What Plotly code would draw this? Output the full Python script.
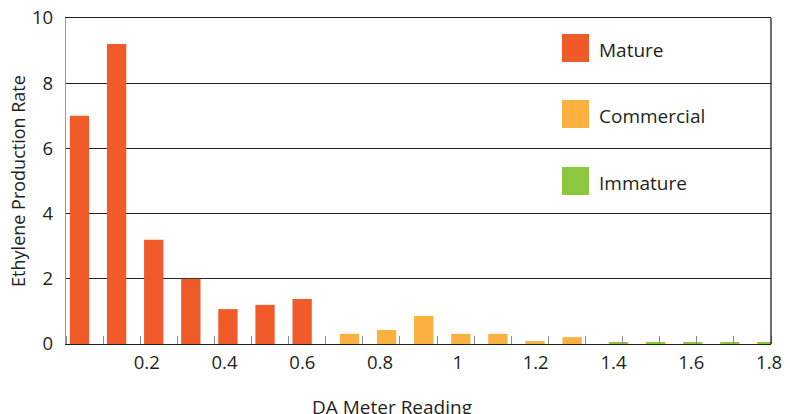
import plotly.graph_objects as go

# ---------------- data ----------------
mature_x = [0.0, 0.1, 0.2, 0.3, 0.4, 0.5, 0.6]
mature_y = [7.0, 9.2, 3.2, 2.0, 1.07, 1.2, 1.38]
commercial_x = [0.7, 0.8, 0.9, 1.0, 1.1, 1.2, 1.3]
commercial_y = [0.31, 0.43, 0.86, 0.31, 0.31, 0.09, 0.21]
immature_x = [1.4, 1.5, 1.6, 1.7, 1.8]
immature_y = [0.05, 0.05, 0.05, 0.05, 0.05]

series_names = ["Mature", "Commercial", "Immature"]
series_colors = ["#F15A29", "#FBB040", "#8DC63F"]

x_tick_vals = [0.2, 0.4, 0.6, 0.8, 1.0, 1.2, 1.4, 1.6, 1.8]
x_tick_text = ["0.2", "0.4", "0.6", "0.8", "1", "1.2", "1.4", "1.6", "1.8"]
y_tick_vals = [0, 2, 4, 6, 8, 10]

# ---------------- layout constants ----------------
W, H = 790, 414
ML, MR, MT, MB = 66, 19, 18, 70
PW, PH = W - ML - MR, H - MT - MB
INK = "#231F20"
FONT = "Open Sans"

bar_width = 0.052
group_shift = [-0.0136, 0.014, 0.039]  # visual nudge of each group

fig = go.Figure()
for xs, ys, name, color, shift in zip(
    [mature_x, commercial_x, immature_x],
    [mature_y, commercial_y, immature_y],
    series_names, series_colors, group_shift,
):
    fig.add_trace(go.Bar(
        x=xs, y=ys, name=name,
        marker=dict(color=color, line=dict(width=0)),
        width=bar_width, offset=-bar_width / 2 + shift,
        showlegend=False, cliponaxis=False,
        hovertemplate=name + ": %{x}, %{y}<extra></extra>",
    ))

# carrier trace so the tick-label axis is rendered (draws nothing)
fig.add_trace(go.Scatter(
    x=x_tick_vals, y=[None] * len(x_tick_vals), xaxis="x2", yaxis="y",
    mode="markers", showlegend=False, hoverinfo="skip",
))


def px_x(p):
    return (p - ML) / PW


def px_y(p):
    return (MT + PH - p) / PH


shapes = [
    dict(type="line", xref="paper", yref="paper", x0=1, x1=1, y0=0, y1=1,
         line=dict(color=INK, width=1.3)),
]
annotations = []
legend_tops = [34, 100, 167]
for name, color, top in zip(series_names, series_colors, legend_tops):
    shapes.append(dict(type="rect", xref="paper", yref="paper",
                       x0=px_x(562), x1=px_x(589), y0=px_y(top + 28), y1=px_y(top),
                       fillcolor=color, line=dict(width=0)))
    annotations.append(dict(xref="paper", yref="paper", x=px_x(597), y=px_y(top + 16),
                            xanchor="left", yanchor="middle", showarrow=False,
                            text=name, font=dict(family=FONT, size=19, color=INK)))

annotations.append(dict(xref="paper", yref="paper", x=px_x(391.5), y=px_y(392),
                        xanchor="center", yanchor="top", showarrow=False,
                        text="DA Meter Reading",
                        font=dict(family=FONT, size=19, color=INK)))

fig.update_layout(
    width=W, height=H,
    margin=dict(l=ML, r=MR, t=MT, b=MB, autoexpand=False),
    paper_bgcolor="white", plot_bgcolor="white",
    barmode="overlay",
    font=dict(family=FONT, color=INK),
    xaxis=dict(
        type="linear", range=[-0.05, 1.85], showticklabels=False, ticks="",
        showgrid=False, zeroline=False,
        showline=True, linecolor=INK, linewidth=1.3, mirror=True,
        minor=dict(ticks="inside", tick0=0.05, dtick=0.1, ticklen=8,
                   tickcolor="#8a8a8a", tickwidth=1.3, showgrid=False),
        fixedrange=True,
    ),
    xaxis2=dict(
        overlaying="x", anchor="y", side="bottom", type="linear",
        range=[-0.0075, 1.805], tickmode="array",
        tickvals=x_tick_vals, ticktext=x_tick_text, ticks="",
        showgrid=False, zeroline=False, showline=False,
        tickfont=dict(family=FONT, size=18.5, color=INK),
        ticklabelstandoff=5, fixedrange=True,
    ),
    yaxis=dict(
        range=[0, 10], tickmode="array", tickvals=y_tick_vals, ticks="",
        showgrid=True, gridcolor=INK, gridwidth=1.3, zeroline=False,
        showline=True, linecolor="#9b9b9b", linewidth=1.3,
        tickfont=dict(family=FONT, size=18.5, color=INK),
        ticklabelstandoff=8,
        title=dict(text="Ethylene Production Rate", standoff=1,
                   font=dict(family=FONT, size=18, color=INK)),
        fixedrange=True,
    ),
    shapes=shapes,
    annotations=annotations,
)

fig.write_html(
    "out.html",
    config={"displayModeBar": False},
    post_script="document.body.style.margin='0';document.body.style.overflow='hidden';",
)
